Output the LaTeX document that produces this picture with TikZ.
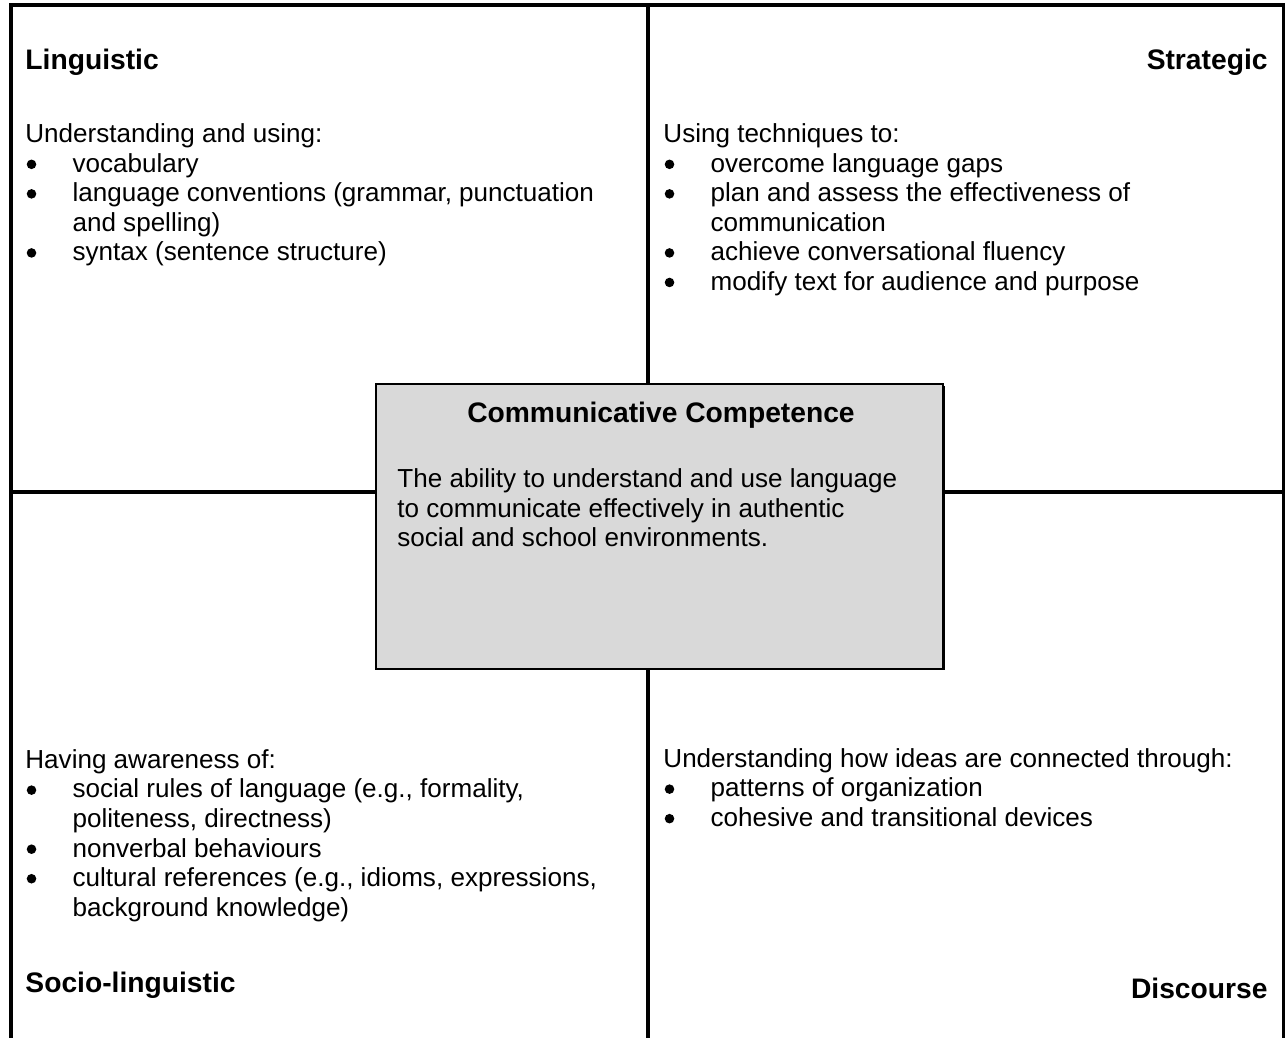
\documentclass[tikz,border=0pt]{standalone}
\usepackage{fontspec}
\setmainfont{Liberation Sans}
\usetikzlibrary{shadows}
\definecolor{boxgray}{RGB}{217,217,217}
\newcommand{\itm}{\makebox[21.7pt][l]{\hspace*{0.6pt}\tikz[baseline=0pt]\fill (0,3.6pt) circle (2.2pt);}}
\newcommand{\cont}{\hspace*{21.7pt}}

\begin{document}
\begin{tikzpicture}[x=0.4605pt, y=-0.4605pt,
    rule/.style={line width=1.8pt},
    head/.style={inner sep=0pt, font=\fontsize{13}{15}\selectfont\bfseries},
    body/.style={inner sep=0pt, anchor=north west, align=left, font=\fontsize{12}{13.6}\selectfont},
    ccbox/.style={draw, line width=0.7pt, fill=boxgray, inner sep=0pt,
      minimum width=261.2pt, minimum height=131.2pt,
      general shadow={fill=black, shadow xshift=0.7pt, shadow yshift=-0.7pt}}]
        \useasboundingbox (0,0) rectangle (1285,1038);

        % frame and cross
        \coordinate (tl) at (11,5);
        \coordinate (tr) at (1283.5,5);
        \coordinate (bl) at (11,1040);
        \coordinate (br) at (1283.5,1040);
        \coordinate (tm) at (648,5);
        \coordinate (bm) at (648,1040);
        \coordinate (ml) at (11,492);
        \coordinate (mr) at (1283.5,492);

        \draw[rule] (bl) -- (tl) -- (tr) -- (br);
        \node[ccbox] (cc) at (659.4,526.5) {};
        \draw[rule] (tm) -- (cc.north -| tm);
        \draw[rule] (cc.south -| tm) -- (bm);
        \draw[rule] (ml) -- (cc.west |- ml);
        \draw[rule] (cc.east |- ml) -- (mr);

        % linguistic
        \node[head, anchor=base west] (ling) at (25,69) {Linguistic};
        \node[body] (ling_text) at (25,121.5) {\strut Understanding and using:\\
          \itm vocabulary\\
          \itm language conventions (grammar, punctuation\\
          \cont and spelling)\\
          \itm syntax (sentence structure)};

        % strategic
        \node[head, anchor=base east] (strat) at (1268,69) {Strategic};
        \node[body] (strat_text) at (663,121.5) {\strut Using techniques to:\\
          \itm overcome language gaps\\
          \itm plan and assess the effectiveness of\\
          \cont communication\\
          \itm achieve conversational fluency\\
          \itm modify text for audience and purpose};

        % centre box
        \node[head, anchor=base] (cc_head) at (661,422.7) {Communicative Competence};
        \node[body] (cc_text) at (397,466.5) {\strut The ability to understand and use language\\
          to communicate effectively in authentic\\
          social and school environments.};

        % socio-linguistic
        \node[body] (socio_text) at (25,747.3) {\strut Having awareness of:\\
          \itm social rules of language (e.g., formality,\\
          \cont politeness, directness)\\
          \itm nonverbal behaviours\\
          \itm cultural references (e.g., idioms, expressions,\\
          \cont background knowledge)};
        \node[head, anchor=base west] (socio) at (25,992) {Socio-linguistic};

        % discourse
        \node[body] (disc_text) at (663,746.3) {\strut Understanding how ideas are connected through:\\
          \itm patterns of organization\\
          \itm cohesive and transitional devices};
        \node[head, anchor=base east] (disc) at (1268,998) {Discourse};
\end{tikzpicture}
\end{document}
